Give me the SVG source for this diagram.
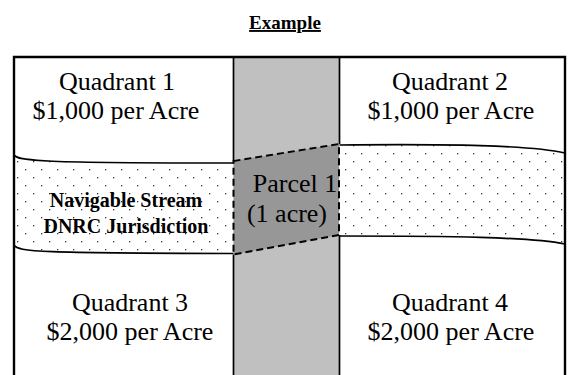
<svg xmlns="http://www.w3.org/2000/svg" width="569" height="375" viewBox="0 0 569 375">
  <style>
    .q { font-family: "Liberation Serif", "Times New Roman", serif; font-size: 26px; fill: #000; text-anchor: middle; }
    .b { font-family: "Liberation Serif", "Times New Roman", serif; font-size: 20px; font-weight: bold; fill: #000; text-anchor: middle; }
    .t { font-family: "Liberation Serif", "Times New Roman", serif; font-size: 19px; font-weight: bold; fill: #000; text-anchor: middle; text-decoration: underline; }
    .edge { fill: none; stroke: #000; stroke-width: 1.7; }
    .border { fill: none; stroke: #000; stroke-width: 2.4; }
    .dash { fill: none; stroke: #000; stroke-width: 2; stroke-dasharray: 7 4; }
  </style>
  <defs>
    <pattern id="dots" patternUnits="userSpaceOnUse" x="0" y="0" width="16" height="16">
      <rect width="16" height="16" fill="#fff"/>
      <rect x="1" y="1" width="1.3" height="1.3" fill="#333"/>
      <rect x="9" y="9" width="1.3" height="1.3" fill="#333"/>
    </pattern>
  </defs>

  <rect width="569" height="375" fill="#fff"/>

  <g id="title">
    <text class="t" x="285" y="29">Example</text>
  </g>

  <g id="column">
    <rect x="233.5" y="57" width="106" height="318" fill="#c0c0c0"/>
  </g>

  <g id="stream">
    <path d="M14,155 C18,161 40,163 233.5,163 L233.5,253.5 C40,253 18,252 14,245 Z" fill="url(#dots)"/>
    <path d="M339.5,145 C450,144 530,145 565,153 L565,244 C530,237 450,236 339.5,236 Z" fill="url(#dots)"/>
    <path class="edge" d="M14,155 C18,161 40,163 233.5,163"/>
    <path class="edge" d="M14,245 C18,252 40,253 233.5,253.5"/>
    <path class="edge" d="M339.5,145 C450,144 530,145 565,153"/>
    <path class="edge" d="M339.5,236 C450,236 530,237 565,244"/>
    <text class="b" x="126" y="207">Navigable Stream</text>
    <text class="b" x="126" y="233">DNRC Jurisdiction</text>
  </g>

  <g id="parcel1">
    <polygon points="233.5,161 339,144 339,235 233.5,254.5" fill="#979797"/>
    <polygon class="dash" points="233.5,161 339,144 339,235 233.5,254.5"/>
    <text class="q" x="295" y="192">Parcel 1</text>
    <text class="q" x="287" y="222">(1 acre)</text>
  </g>

  <g id="frame">
    <path class="border" d="M14,375 L14,57 L565,57 L565,375"/>
    <path class="edge" d="M233.5,57 L233.5,161 M233.5,254.5 L233.5,375 M339.5,57 L339.5,144 M339.5,235 L339.5,375"/>
  </g>

  <g id="quadrant1">
    <text class="q" x="117" y="90">Quadrant 1</text>
    <text class="q" x="116" y="119">$1,000 per Acre</text>
  </g>
  <g id="quadrant2">
    <text class="q" x="450" y="90">Quadrant 2</text>
    <text class="q" x="451" y="119">$1,000 per Acre</text>
  </g>
  <g id="quadrant3">
    <text class="q" x="130" y="311">Quadrant 3</text>
    <text class="q" x="130" y="340">$2,000 per Acre</text>
  </g>
  <g id="quadrant4">
    <text class="q" x="450" y="311">Quadrant 4</text>
    <text class="q" x="451" y="340">$2,000 per Acre</text>
  </g>
</svg>
